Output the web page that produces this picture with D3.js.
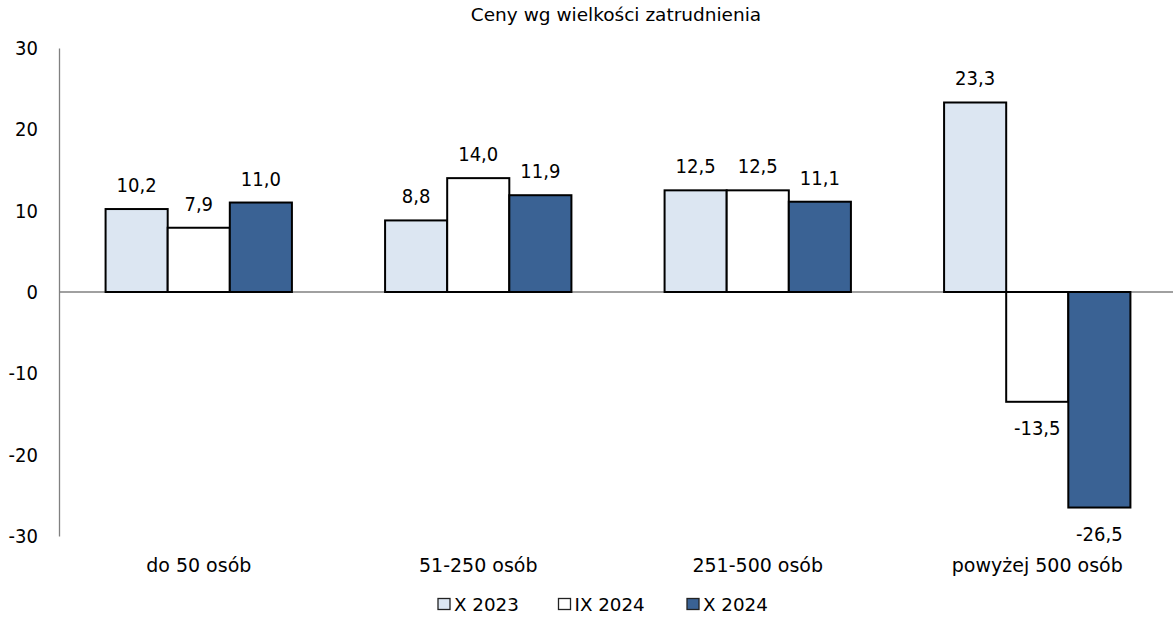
<!DOCTYPE html>
<html>
<head>
<meta charset="utf-8">
<script src="https://cdn.jsdelivr.net/npm/d3@7"></script>
<style>
  body { margin: 0; background: white; }
  text { font-family: "DejaVu Sans", sans-serif; fill: #000; }
  .num { font-family: "DejaVu Sans Condensed", "DejaVu Sans", sans-serif; }
</style>
</head>
<body>
<div id="chart"></div>
<script>
const categories = ["do 50 osób", "51-250 osób", "251-500 osób", "powyżej 500 osób"]
const seriesNames = ["X 2023", "IX 2024", "X 2024"]
const seriesColors = ["#dce6f2", "#ffffff", "#3a6294"]
const valuesX2023 = [10.2, 8.8, 12.5, 23.3]
const valuesIX2024 = [7.9, 14.0, 12.5, -13.5]
const valuesX2024 = [11.0, 11.9, 11.1, -26.5]
const yTicks = [-30, -20, -10, 0, 10, 20, 30]
const title = "Ceny wg wielkości zatrudnienia"

const series = [valuesX2023, valuesIX2024, valuesX2024]

let dimensions = {
  width: 1173,
  height: 622,
  margin: { top: 48, right: -4, bottom: 86, left: 59 },
}
dimensions.boundedWidth = dimensions.width - dimensions.margin.left - dimensions.margin.right
dimensions.boundedHeight = dimensions.height - dimensions.margin.top - dimensions.margin.bottom

const wrapper = d3.select("#chart")
  .append("svg")
    .attr("width", dimensions.width)
    .attr("height", dimensions.height)

const bounds = wrapper.append("g")
    .attr("transform", `translate(${dimensions.margin.left}, ${dimensions.margin.top})`)

// scales
const yScale = d3.scaleLinear()
  .domain([-30, 30])
  .range([dimensions.boundedHeight, 0])

const xScale = d3.scaleBand()
  .domain(categories)
  .range([0, dimensions.boundedWidth])
  .paddingInner(1 / 3)
  .paddingOuter(1 / 6)

const innerScale = d3.scaleBand()
  .domain(d3.range(series.length))
  .range([0, xScale.bandwidth()])

const fmt = v => d3.format(".1f")(v).replace(".", ",").replace("−", "-")

// title
wrapper.append("text")
    .attr("x", 616)
    .attr("y", 21)
    .attr("text-anchor", "middle")
    .style("font-size", "18.5px")
    .text(title)

// zero line
bounds.append("line")
    .attr("x1", 0)
    .attr("x2", dimensions.boundedWidth)
    .attr("y1", yScale(0))
    .attr("y2", yScale(0))
    .attr("stroke", "#808080")
    .attr("stroke-width", 1.3)

// y axis
const yAxisGenerator = d3.axisLeft(yScale)
  .tickValues(yTicks)
  .tickSize(0)
  .tickPadding(21)
  .tickFormat(d => d3.format("d")(d).replace("−", "-"))

const yAxis = bounds.append("g")
    .call(yAxisGenerator)
yAxis.attr("font-family", null)
yAxis.select(".domain").attr("stroke", "#808080").attr("stroke-width", 1.3)
yAxis.selectAll("text")
    .attr("class", "num")
    .style("font-size", "20px")
    .attr("fill", "#000")

// bars
const groups = bounds.selectAll(".group")
  .data(categories)
  .join("g")
    .attr("class", "group")
    .attr("transform", d => `translate(${xScale(d)}, 0)`)

series.forEach((vals, si) => {
  groups.append("rect")
      .attr("x", innerScale(si))
      .attr("width", innerScale.bandwidth())
      .attr("y", (d, i) => yScale(Math.max(0, vals[i])))
      .attr("height", (d, i) => Math.abs(yScale(vals[i]) - yScale(0)))
      .attr("fill", seriesColors[si])
      .attr("stroke", "#000")
      .attr("stroke-width", 2)

  groups.append("text")
      .attr("class", "num")
      .attr("x", innerScale(si) + innerScale.bandwidth() / 2)
      .attr("y", (d, i) => vals[i] >= 0 ? yScale(vals[i]) - 17 : yScale(vals[i]) + 33)
      .attr("text-anchor", "middle")
      .style("font-size", "20px")
      .text((d, i) => fmt(vals[i]))
})

// category labels
bounds.selectAll(".cat-label")
  .data(categories)
  .join("text")
    .attr("class", "cat-label")
    .attr("x", d => xScale(d) + xScale.bandwidth() / 2)
    .attr("y", dimensions.boundedHeight + 36)
    .attr("text-anchor", "middle")
    .style("font-size", "19px")
    .text(d => d)

// legend
const legendX = [438, 558.5, 687]
const legend = wrapper.append("g")
    .attr("transform", "translate(0, 598)")

seriesNames.forEach((name, i) => {
  legend.append("rect")
      .attr("x", legendX[i])
      .attr("y", 0.5)
      .attr("width", 12)
      .attr("height", 11)
      .attr("fill", seriesColors[i])
      .attr("stroke", "#222")
      .attr("stroke-width", 1.3)
  legend.append("text")
      .attr("x", legendX[i] + 16)
      .attr("y", 13)
      .style("font-size", "18.3px")
      .text(name)
})
</script>
</body>
</html>
